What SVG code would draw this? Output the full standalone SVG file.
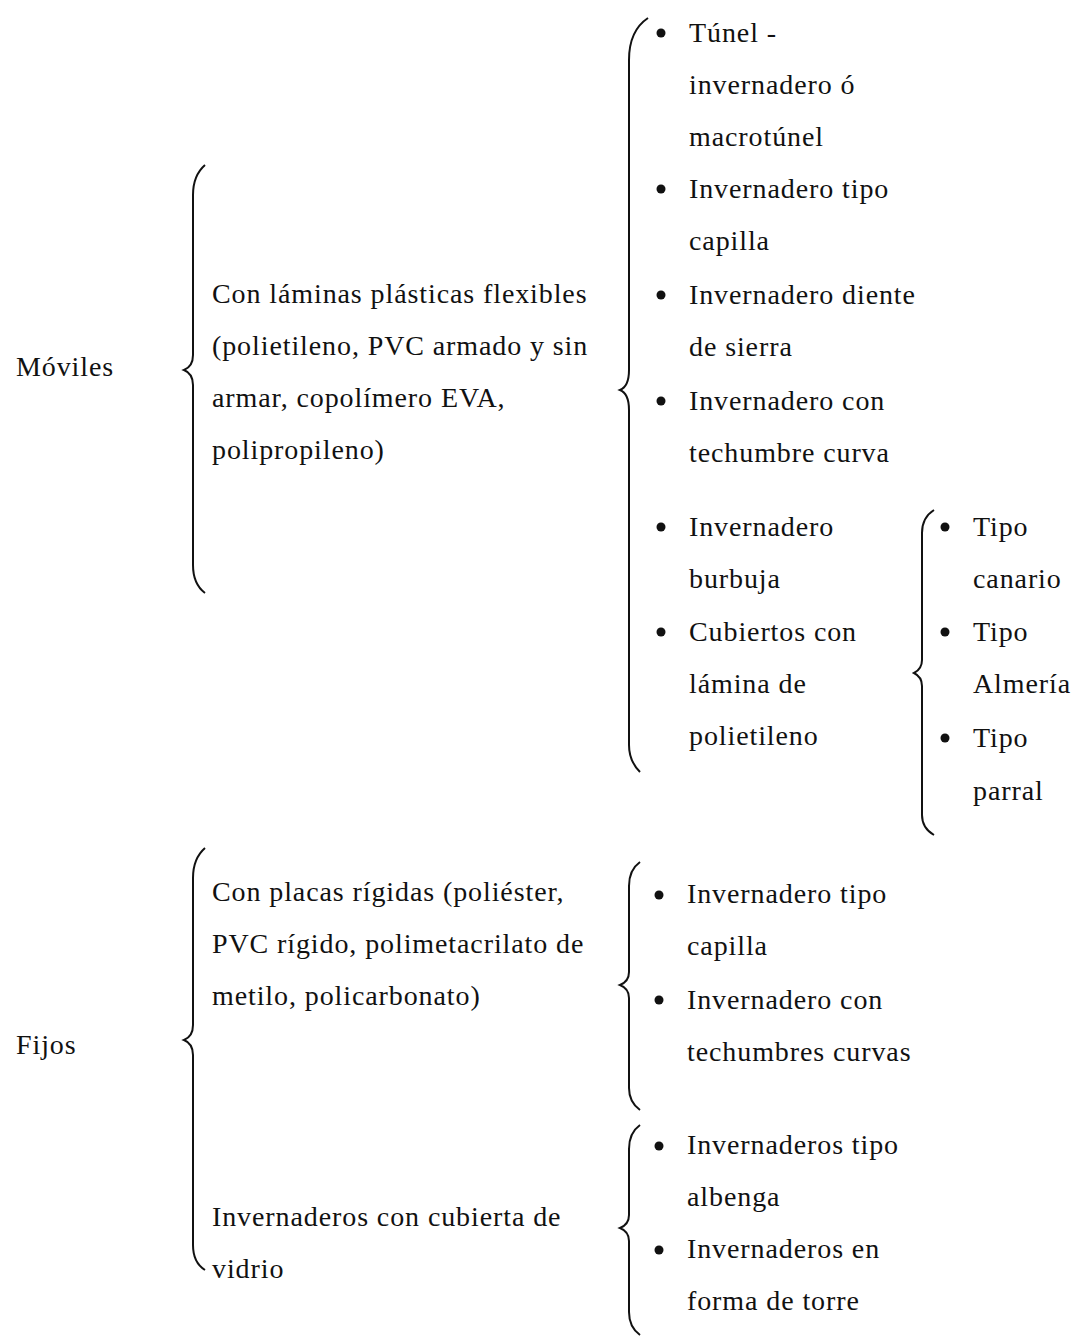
<svg xmlns="http://www.w3.org/2000/svg" width="1077" height="1337" viewBox="0 0 1077 1337">
<style>
text{font-family:"Liberation Serif","Times New Roman",serif;font-size:28px;letter-spacing:0.9px;fill:#111}
.b{fill:none;stroke:#111;stroke-width:2}
.d{fill:#111}
</style>
<rect width="1077" height="1337" fill="#fff"/>
<g id="connectors">
<path class="b" d="M205,165 C197,172 193,182 193,195 L193,355 C193,364 189,368 184,370 C189,372 193,376 193,385 L193,565 C193,578 197,587 205,593"/>
<path class="b" d="M648,18 C636,26 629,40 629,60 L629,370 C629,382 625,388 620,390 C625,392 629,398 629,410 L629,745 C629,758 634,766 640,772"/>
<path class="b" d="M934,510 C926,515 922,523 922,533 L922,660 C922,668 918,671 914,673 C918,675 922,678 922,686 L922,815 C922,825 927,831 934,835"/>
<path class="b" d="M205,848 C197,855 193,865 193,878 L193,1025 C193,1034 189,1038 184,1040 C189,1042 193,1046 193,1055 L193,1245 C193,1258 197,1265 205,1270"/>
<path class="b" d="M640,862 C633,867 629,875 629,886 L629,972 C629,980 625,983 620,985 C625,987 629,990 629,998 L629,1088 C629,1099 633,1105 640,1110"/>
<path class="b" d="M640,1125 C633,1130 629,1138 629,1149 L629,1215 C629,1223 625,1226 620,1228 C625,1230 629,1233 629,1241 L629,1312 C629,1323 633,1330 640,1335"/>
</g>
<g id="moviles"><text x="16" y="376">Móviles</text></g>
<g id="laminas">
<text x="212" y="303">Con láminas plásticas flexibles</text>
<text x="212" y="355">(polietileno, PVC armado y sin</text>
<text x="212" y="407">armar, copolímero EVA,</text>
<text x="212" y="459">polipropileno)</text>
</g>
<g id="lista-moviles">
<circle class="d" cx="661" cy="33" r="4.5"/><text x="689" y="42">Túnel -</text>
<text x="689" y="94">invernadero ó</text>
<text x="689" y="146">macrotúnel</text>
<circle class="d" cx="661" cy="189" r="4.5"/><text x="689" y="198">Invernadero tipo</text>
<text x="689" y="250">capilla</text>
<circle class="d" cx="661" cy="295" r="4.5"/><text x="689" y="304">Invernadero diente</text>
<text x="689" y="356">de sierra</text>
<circle class="d" cx="661" cy="401" r="4.5"/><text x="689" y="410">Invernadero con</text>
<text x="689" y="462">techumbre curva</text>
<circle class="d" cx="661" cy="527" r="4.5"/><text x="689" y="536">Invernadero</text>
<text x="689" y="588">burbuja</text>
<circle class="d" cx="661" cy="632" r="4.5"/><text x="689" y="641">Cubiertos con</text>
<text x="689" y="693">lámina de</text>
<text x="689" y="745">polietileno</text>
</g>
<g id="lista-tipo">
<circle class="d" cx="945" cy="527" r="4.5"/><text x="973" y="536">Tipo</text>
<text x="973" y="588">canario</text>
<circle class="d" cx="945" cy="632" r="4.5"/><text x="973" y="641">Tipo</text>
<text x="973" y="693">Almería</text>
<circle class="d" cx="945" cy="738" r="4.5"/><text x="973" y="747">Tipo</text>
<text x="973" y="800">parral</text>
</g>
<g id="fijos"><text x="16" y="1054">Fijos</text></g>
<g id="placas">
<text x="212" y="901">Con placas rígidas (poliéster,</text>
<text x="212" y="953">PVC rígido, polimetacrilato de</text>
<text x="212" y="1005">metilo, policarbonato)</text>
</g>
<g id="lista-placas">
<circle class="d" cx="659" cy="895" r="4.5"/><text x="687" y="903">Invernadero tipo</text>
<text x="687" y="955">capilla</text>
<circle class="d" cx="659" cy="1000" r="4.5"/><text x="687" y="1009">Invernadero con</text>
<text x="687" y="1061">techumbres curvas</text>
</g>
<g id="vidrio">
<text x="212" y="1226">Invernaderos con cubierta de</text>
<text x="212" y="1278">vidrio</text>
</g>
<g id="lista-vidrio">
<circle class="d" cx="659" cy="1146" r="4.5"/><text x="687" y="1154">Invernaderos tipo</text>
<text x="687" y="1206">albenga</text>
<circle class="d" cx="659" cy="1250" r="4.5"/><text x="687" y="1258">Invernaderos en</text>
<text x="687" y="1310">forma de torre</text>
</g>
</svg>
